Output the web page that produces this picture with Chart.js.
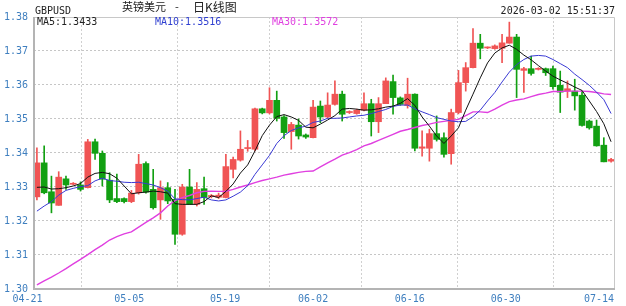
<!DOCTYPE html>
<html>
<head>
<meta charset="utf-8">
<script src="https://cdn.jsdelivr.net/npm/chart.js@4.4.1/dist/chart.umd.min.js"></script>
<style>
  html, body { margin: 0; padding: 0; background: #fff; }
  canvas { display: block; }
</style>
</head>
<body>
<canvas id="kline" width="626" height="306"></canvas>
<script>
// 日K数据 (读自参考图)
const tickLabels = ['04-21', '05-05', '05-19', '06-02', '06-16', '06-30', '07-14'];
const tickAt = [-0.4, 12.7, 25.9, 38, 51.3, 64.5, 79.4];
const yTicks = [1.30, 1.31, 1.32, 1.33, 1.34, 1.35, 1.36, 1.37, 1.38];

const opens = [
  1.3271, 1.3371, 1.3286, 1.3246, 1.3324, 1.3308, 1.3306, 1.3298, 1.3433, 1.3399,
  1.3320, 1.3266, 1.3266, 1.3257, 1.3283, 1.3369, 1.3293, 1.3262, 1.3298, 1.3264,
  1.3161, 1.3300, 1.3249, 1.3295, 1.3272, 1.3270, 1.3269, 1.3352, 1.3379, 1.3413,
  1.3411, 1.3530, 1.3518, 1.3555, 1.3506, 1.3463, 1.3482, 1.3453, 1.3445, 1.3538,
  1.3506, 1.3543, 1.3573, 1.3519, 1.3516, 1.3526, 1.3545, 1.3492, 1.3545, 1.3610,
  1.3562, 1.3540, 1.3573, 1.3414, 1.3414, 1.3457, 1.3445, 1.3398, 1.3519, 1.3607,
  1.3651, 1.3723, 1.3709, 1.3707, 1.3708, 1.3723, 1.3741, 1.3643, 1.3648, 1.3646,
  1.3648, 1.3648, 1.3599, 1.3582, 1.3582, 1.3570, 1.3494, 1.3479, 1.3423, 1.3376
];
const closes = [
  1.3371, 1.3283, 1.3253, 1.3329, 1.3306, 1.3311, 1.3293, 1.3433, 1.3399, 1.3323,
  1.3262, 1.3257, 1.3257, 1.3282, 1.3367, 1.3285, 1.3239, 1.3298, 1.3259, 1.3161,
  1.3300, 1.3249, 1.3293, 1.3269, 1.3275, 1.3276, 1.3360, 1.3381, 1.3411, 1.3416,
  1.3530, 1.3518, 1.3555, 1.3502, 1.3460, 1.3484, 1.3450, 1.3447, 1.3535, 1.3506,
  1.3541, 1.3573, 1.3514, 1.3522, 1.3526, 1.3545, 1.3492, 1.3545, 1.3612, 1.3563,
  1.3543, 1.3573, 1.3414, 1.3418, 1.3457, 1.3440, 1.3396, 1.3519, 1.3607, 1.3651,
  1.3723, 1.3708, 1.3711, 1.3715, 1.3724, 1.3741, 1.3646, 1.3648, 1.3634, 1.3649,
  1.3636, 1.3595, 1.3579, 1.3589, 1.3568, 1.3481, 1.3474, 1.3421, 1.3374, 1.3381
];
const highs = [
  1.3415, 1.3421, 1.3332, 1.3345, 1.3332, 1.3313, 1.3315, 1.3440, 1.3441, 1.3406,
  1.3342, 1.3338, 1.3268, 1.3290, 1.3396, 1.3374, 1.3352, 1.3318, 1.3313, 1.3293,
  1.3308, 1.3352, 1.3313, 1.3329, 1.3278, 1.3282, 1.3396, 1.3388, 1.3465, 1.3437,
  1.3532, 1.3532, 1.3592, 1.3582, 1.3510, 1.3490, 1.3500, 1.3456, 1.3555, 1.3553,
  1.3577, 1.3612, 1.3582, 1.3524, 1.3529, 1.3577, 1.3558, 1.3563, 1.3621, 1.3629,
  1.3565, 1.3620, 1.3574, 1.3465, 1.3470, 1.3509, 1.3459, 1.3529, 1.3643, 1.3666,
  1.3766, 1.3749, 1.3712, 1.3718, 1.3749, 1.3785, 1.3749, 1.3652, 1.3685, 1.3651,
  1.3650, 1.3656, 1.3641, 1.3612, 1.3617, 1.3582, 1.3497, 1.3497, 1.3445, 1.3384
];
const lows = [
  1.3262, 1.3280, 1.3224, 1.3246, 1.3293, 1.3306, 1.3288, 1.3297, 1.3381, 1.3303,
  1.3254, 1.3254, 1.3253, 1.3254, 1.3279, 1.3282, 1.3235, 1.3205, 1.3251, 1.3131,
  1.3158, 1.3249, 1.3244, 1.3249, 1.3268, 1.3266, 1.3268, 1.3327, 1.3376, 1.3405,
  1.3406, 1.3515, 1.3515, 1.3494, 1.3443, 1.3411, 1.3441, 1.3443, 1.3444, 1.3489,
  1.3503, 1.3541, 1.3494, 1.3516, 1.3514, 1.3524, 1.3450, 1.3460, 1.3545, 1.3514,
  1.3540, 1.3532, 1.3406, 1.3391, 1.3376, 1.3435, 1.3388, 1.3367, 1.3515, 1.3582,
  1.3650, 1.3677, 1.3707, 1.3705, 1.3666, 1.3723, 1.3563, 1.3578, 1.3629, 1.3644,
  1.3628, 1.3588, 1.3519, 1.3563, 1.3526, 1.3479, 1.3470, 1.3420, 1.3374, 1.3373
];

// 均线 (读自参考图)
const ma5 = [
  1.3299, 1.3300, 1.3294, 1.3295, 1.3298, 1.3303, 1.3310, 1.3329, 1.3340, 1.3343,
  1.3339, 1.3326, 1.3303, 1.3280, 1.3283, 1.3285, 1.3288, 1.3286, 1.3282, 1.3251,
  1.3249, 1.3249, 1.3249, 1.3257, 1.3274, 1.3269, 1.3287, 1.3309, 1.3341, 1.3365,
  1.3406, 1.3451, 1.3482, 1.3507, 1.3513, 1.3506, 1.3496, 1.3476, 1.3474, 1.3485,
  1.3497, 1.3510, 1.3529, 1.3531, 1.3529, 1.3526, 1.3527, 1.3530, 1.3535, 1.3538,
  1.3546, 1.3560, 1.3540, 1.3506, 1.3479, 1.3450, 1.3428, 1.3450, 1.3474, 1.3526,
  1.3573, 1.3621, 1.3665, 1.3694, 1.3709, 1.3717, 1.3705, 1.3688, 1.3674, 1.3657,
  1.3641, 1.3626, 1.3615, 1.3605, 1.3594, 1.3584, 1.3553, 1.3522, 1.3486, 1.3433
];
const ma10 = [
  1.3229, 1.3244, 1.3257, 1.3276, 1.3290, 1.3296, 1.3301, 1.3304, 1.3318, 1.3326,
  1.3319, 1.3317, 1.3314, 1.3313, 1.3314, 1.3310, 1.3306, 1.3298, 1.3288, 1.3265,
  1.3263, 1.3262, 1.3266, 1.3270, 1.3262, 1.3259, 1.3262, 1.3273, 1.3285, 1.3304,
  1.3337, 1.3365, 1.3393, 1.3428, 1.3451, 1.3466, 1.3474, 1.3479, 1.3490, 1.3494,
  1.3502, 1.3502, 1.3503, 1.3506, 1.3509, 1.3511, 1.3516, 1.3522, 1.3528, 1.3537,
  1.3541, 1.3541, 1.3530, 1.3521, 1.3513, 1.3504, 1.3499, 1.3494, 1.3492, 1.3493,
  1.3507, 1.3526, 1.3553, 1.3578, 1.3609, 1.3638, 1.3660, 1.3675, 1.3685, 1.3687,
  1.3685, 1.3675, 1.3663, 1.3651, 1.3632, 1.3616, 1.3599, 1.3579, 1.3557, 1.3516
];
const ma30 = [
  1.3012, 1.3024, 1.3035, 1.3047, 1.3060, 1.3074, 1.3087, 1.3101, 1.3116, 1.3129,
  1.3144, 1.3154, 1.3162, 1.3168, 1.3182, 1.3196, 1.3209, 1.3224, 1.3244, 1.3260,
  1.3269, 1.3275, 1.3283, 1.3287, 1.3288, 1.3287, 1.3287, 1.3293, 1.3300, 1.3306,
  1.3313, 1.3319, 1.3324, 1.3329, 1.3335, 1.3339, 1.3343, 1.3346, 1.3347, 1.3359,
  1.3371, 1.3382, 1.3394, 1.3401, 1.3410, 1.3421, 1.3428, 1.3437, 1.3446, 1.3455,
  1.3464, 1.3469, 1.3475, 1.3481, 1.3485, 1.3490, 1.3493, 1.3496, 1.3499, 1.3510,
  1.3521, 1.3521, 1.3519, 1.3529, 1.3541, 1.3551, 1.3556, 1.3559, 1.3566, 1.3572,
  1.3576, 1.3581, 1.3581, 1.3582, 1.3582, 1.3582, 1.3581, 1.3578, 1.3574, 1.3572
];

const UP = '#f05454';
const DOWN = '#12a012';
const AXIS_BLUE = '#3f7fbf';
const MONO = '"DejaVu Sans Mono", monospace';

const candleColors = closes.map((c, i) => (c >= opens[i] ? UP : DOWN));
const asPoints = arr => arr.map((v, i) => ({ x: i, y: v }));

// 边框、横轴文字、标题、均线图例
const klineDecor = {
  id: 'klineDecor',
  afterDraw(chart) {
    const { ctx, chartArea: a, scales: { x } } = chart;
    ctx.save();

    ctx.strokeStyle = '#c8c8c8';
    ctx.lineWidth = 1;
    ctx.beginPath();
    ctx.moveTo(a.left, a.top + 0.5);
    ctx.lineTo(a.right + 0.5, a.top + 0.5);
    ctx.lineTo(a.right + 0.5, a.bottom);
    ctx.stroke();

    ctx.strokeStyle = '#b4b4b4';
    ctx.lineWidth = 2;
    ctx.beginPath();
    ctx.moveTo(a.left, a.top);
    ctx.lineTo(a.left, a.bottom);
    ctx.lineTo(a.right + 1, a.bottom);
    ctx.stroke();

    ctx.font = '10px ' + MONO;
    ctx.fillStyle = AXIS_BLUE;
    ctx.textBaseline = 'middle';
    tickAt.forEach((v, k) => {
      const px = x.getPixelForValue(v);
      if (k === 0) {
        ctx.textAlign = 'center';
        ctx.fillText(tickLabels[k], px - 6.5, a.bottom + 10);
      } else if (k === tickAt.length - 1) {
        ctx.textAlign = 'right';
        ctx.fillText(tickLabels[k], px, a.bottom + 10);
      } else {
        ctx.textAlign = 'center';
        ctx.fillText(tickLabels[k], px, a.bottom + 10);
      }
    });

    ctx.textAlign = 'left';
    ctx.fillStyle = '#222';
    ctx.fillText('GBPUSD', 35, 11);
    ctx.font = '11px "Noto Sans CJK SC"';
    ctx.fillText('英镑美元', 122, 7);
    ctx.fillText('-', 175, 7);
    ctx.font = '12px "Noto Sans CJK SC"';
    ctx.fillText('日K线图', 193, 7);
    ctx.font = '10px ' + MONO;
    ctx.textAlign = 'right';
    ctx.fillText('2026-03-02 15:51:37', 615, 11);

    ctx.textAlign = 'left';
    ctx.fillStyle = '#222';
    ctx.fillText('MA5:' + ma5[ma5.length - 1].toFixed(4), 37, 22);
    ctx.fillStyle = '#2f3fd0';
    ctx.fillText('MA10:' + ma10[ma10.length - 1].toFixed(4), 155, 22);
    ctx.fillStyle = '#e040e0';
    ctx.fillText('MA30:' + ma30[ma30.length - 1].toFixed(4), 272, 22);

    ctx.restore();
  }
};

new Chart(document.getElementById('kline'), {
  data: {
    datasets: [
      {
        type: 'line', label: 'MA5', data: asPoints(ma5), order: 0,
        borderColor: '#111', borderWidth: 1, pointRadius: 0, tension: 0
      },
      {
        type: 'line', label: 'MA10', data: asPoints(ma10), order: 0,
        borderColor: '#3a3ad4', borderWidth: 1, pointRadius: 0, tension: 0
      },
      {
        type: 'line', label: 'MA30', data: asPoints(ma30), order: 0,
        borderColor: '#e040e0', borderWidth: 1.4, pointRadius: 0, tension: 0
      },
      {
        type: 'bar', label: 'body', order: 1, grouped: false,
        data: opens.map((o, i) => ({ x: i, y: [o, closes[i]] })),
        backgroundColor: candleColors, barThickness: 6, minBarLength: 1, borderWidth: 0
      },
      {
        type: 'bar', label: 'wick', order: 2, grouped: false,
        data: lows.map((l, i) => ({ x: i, y: [l, highs[i]] })),
        backgroundColor: candleColors, barThickness: 1, borderWidth: 0
      }
    ]
  },
  options: {
    responsive: false,
    animation: false,
    events: [],
    devicePixelRatio: 1,
    layout: { padding: { top: 17, right: 12, bottom: 0, left: 0 } },
    plugins: { legend: { display: false }, tooltip: { enabled: false } },
    scales: {
      x: {
        type: 'linear', min: -0.4, max: 79.4, offset: false,
        afterBuildTicks: s => { s.ticks = tickAt.slice(1, -1).map(v => ({ value: v })); },
        afterFit: s => { s.height = 17; },
        ticks: { display: false },
        grid: { color: '#d0d0d0', drawTicks: false },
        border: { display: false, dash: [2, 2] }
      },
      y: {
        min: 1.30, max: 1.38,
        afterBuildTicks: s => { s.ticks = yTicks.map(v => ({ value: v })); },
        afterFit: s => { s.width = 34; },
        ticks: {
          color: AXIS_BLUE, padding: 6,
          font: { family: 'DejaVu Sans Mono', size: 10 },
          callback: v => v.toFixed(2)
        },
        grid: { color: '#c6c6c6', drawTicks: false },
        border: { display: false, dash: [2, 2] }
      }
    }
  },
  plugins: [klineDecor]
});
</script>
</body>
</html>
